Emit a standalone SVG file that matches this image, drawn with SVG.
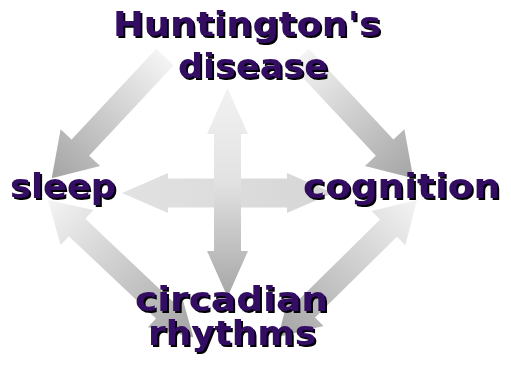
<svg xmlns="http://www.w3.org/2000/svg" width="511" height="374" viewBox="0 0 511 374">
<defs>
<linearGradient id="gDiag" x1="0" y1="0" x2="1" y2="0">
<stop offset="0" stop-color="#f4f4f4"/>
<stop offset="1" stop-color="#a4a4a4"/>
</linearGradient>
<linearGradient id="gVert" x1="0" y1="0" x2="1" y2="0">
<stop offset="0" stop-color="#f2f2f2"/>
<stop offset="0.45" stop-color="#e2e2e2"/>
<stop offset="1" stop-color="#a6a6a6"/>
</linearGradient>
<linearGradient id="gHorz" x1="0" y1="0" x2="1" y2="0">
<stop offset="0" stop-color="#e2e2e2"/>
<stop offset="1" stop-color="#d6d6d6"/>
</linearGradient>
<filter id="shadow" x="-10%" y="-10%" width="120%" height="130%">
<feDropShadow dx="2" dy="2" stdDeviation="0" flood-color="#000000" flood-opacity="1"/>
</filter>
<style>
.lbl{font-family:"DejaVu Sans","Verdana",sans-serif;font-weight:bold;font-size:34px;fill:#310a62;filter:url(#shadow)}
</style>
</defs>
<g id="connectors">
<!-- Huntington's -> sleep -->
<path transform="translate(165,57) rotate(133.04)" fill="url(#gDiag)" d="M0,-12 L124,-12 L124,-27 L166,0 L124,27 L124,12 L0,12 Z"/>
<!-- Huntington's -> cognition -->
<path transform="translate(300,57) rotate(46.96)" fill="url(#gDiag)" d="M0,-12 L124,-12 L124,-27 L166,0 L124,27 L124,12 L0,12 Z"/>
<!-- sleep <-> circadian -->
<path transform="translate(48,200) rotate(43.38)" fill="url(#gDiag)" d="M0,0 L40,-24 L40,-12 L160,-12 L160,-24 L200,0 L160,24 L160,12 L40,12 L40,24 Z"/>
<!-- cognition <-> circadian -->
<path transform="translate(417,200) rotate(135.4)" fill="url(#gDiag)" d="M0,0 L40,-24 L40,-12 L155,-12 L155,-24 L195,0 L155,24 L155,12 L40,12 L40,24 Z"/>
<!-- sleep <-> cognition -->
<path transform="translate(122,193)" fill="url(#gHorz)" d="M0,0 L46,-20 L46,-14.5 L165,-14.5 L165,-20 L211,0 L165,20 L165,14.5 L46,14.5 L46,20 Z"/>
<!-- Huntington's <-> circadian -->
<path transform="translate(227.5,88) rotate(90)" fill="url(#gVert)" d="M0,0 L46,-20.5 L46,-13.5 L163,-13.5 L163,-20.5 L209,0 L163,20.5 L163,13.5 L46,13.5 L46,20.5 Z"/>
</g>
<g id="huntingtons">
<text class="lbl" x="113" y="36" textLength="268" lengthAdjust="spacingAndGlyphs">Huntington's</text>
<text class="lbl" x="178" y="78" textLength="150" lengthAdjust="spacingAndGlyphs">disease</text>
</g>
<g id="sleep">
<text class="lbl" x="10" y="198" textLength="106" lengthAdjust="spacingAndGlyphs">sleep</text>
</g>
<g id="cognition">
<text class="lbl" x="303" y="198" textLength="197" lengthAdjust="spacingAndGlyphs">cognition</text>
</g>
<g id="circadian">
<text class="lbl" x="135" y="311" textLength="193" lengthAdjust="spacingAndGlyphs">circadian</text>
<text class="lbl" x="148" y="345" textLength="168" lengthAdjust="spacingAndGlyphs">rhythms</text>
</g>
</svg>
